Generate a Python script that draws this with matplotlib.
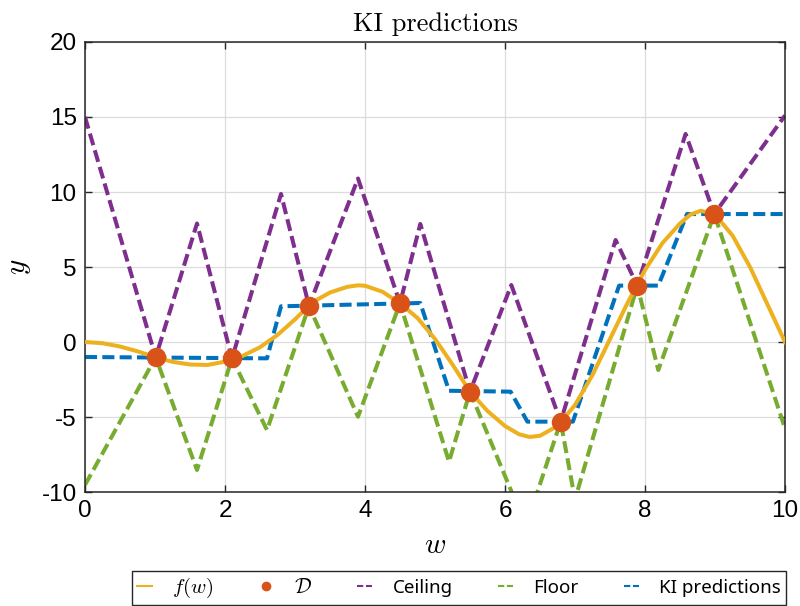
import matplotlib
matplotlib.use("Agg")
import matplotlib.pyplot as plt

plt.rcParams['mathtext.fontset'] = 'cm'
plt.rcParams['axes.unicode_minus'] = False

# sample points of f(w)
f_w = [0, 0.25, 0.5, 0.75, 1.0, 1.25, 1.5, 1.75, 2.0, 2.25, 2.5, 2.75, 3.0,
       3.25, 3.5, 3.75, 3.9, 4.0, 4.25, 4.5, 4.75, 5.0, 5.25, 5.5, 5.75, 6.0,
       6.2, 6.35, 6.5, 6.75, 7.0, 7.25, 7.5, 7.75, 8.0, 8.25, 8.5, 8.65,
       8.8, 9.0, 9.25, 9.5, 9.75, 10.0]
f_y = [0.0, -0.08, -0.3, -0.62, -1.0, -1.32, -1.5, -1.53, -1.31, -0.93, -0.35,
       0.47, 1.51, 2.65, 3.3, 3.68, 3.78, 3.75, 3.35, 2.58, 1.6, 0.2, -1.5,
       -3.31, -4.6, -5.6, -6.15, -6.33, -6.25, -5.6, -4.2, -2.2, 0.2, 2.6,
       4.8, 6.6, 7.9, 8.5, 8.75, 8.5, 7.1, 5.0, 2.5, 0.0]

# data set D
d_w = [1.01, 2.1, 3.2, 4.5, 5.5, 6.795, 7.89, 8.99]
d_y = [-1.02, -1.09, 2.4, 2.58, -3.31, -5.31, 3.76, 8.53]

# ceiling vertices
ceil_w = [0, 1.01, 1.6, 2.1, 2.8, 3.2, 3.9, 4.5, 4.79, 5.5, 6.09, 6.795,
          7.58, 7.89, 8.58, 8.99, 10.0]
ceil_y = [15.0, -1.02, 7.9, -1.09, 9.87, 2.4, 10.9, 2.58, 7.87, -3.31, 3.8,
          -5.31, 6.8, 3.76, 13.87, 8.53, 15.1]

# floor vertices
floor_w = [0, 1.01, 1.6, 2.1, 2.6, 3.2, 3.9, 4.5, 5.2, 5.5, 6.3, 6.795,
           7.0, 7.89, 8.19, 8.99, 10.0]
floor_y = [-9.53, -1.02, -8.53, -1.09, -5.87, 2.4, -4.98, 2.58, -7.98, -3.31,
           -12.3, -5.31, -10.5, 3.76, -1.87, 8.53, -5.76]

# KI prediction vertices
ki_w = [0, 2.6, 2.8, 4.79, 5.2, 6.08, 6.32, 6.97, 7.63, 8.19, 8.6, 10.0]
ki_y = [-1.0, -1.09, 2.38, 2.6, -3.25, -3.31, -5.31, -5.31, 3.76, 3.76,
        8.53, 8.53]

c_f = '#EDB120'
c_d = '#D95319'
c_ceil = '#7E2F8E'
c_floor = '#77AC30'
c_ki = '#0072BD'

fig = plt.figure(figsize=(8, 6.06), dpi=100)
ax = fig.add_axes([0.10625, 0.1881, 0.875, 0.7426])

lw = 2.9
dash = (3.0, 1.3)
ax.plot(f_w, f_y, color=c_f, lw=lw, label=r'$f(w)$', zorder=3)
ax.plot(ceil_w, ceil_y, color=c_ceil, lw=lw, ls=(0, dash), label='Ceiling', zorder=2)
ax.plot(floor_w, floor_y, color=c_floor, lw=lw, ls=(0, dash), label='Floor', zorder=2)
ax.plot(ki_w, ki_y, color=c_ki, lw=lw, ls=(0, dash), label='KI predictions', zorder=2)
ax.plot(d_w, d_y, 'o', color=c_d, ms=13, label=r'$\mathcal{D}$', zorder=4)

ax.set_xlim(0, 10)
ax.set_ylim(-10, 20)
ax.set_xticks(range(0, 11, 2))
ax.set_yticks(range(-10, 21, 5))
ax.grid(True, color='#dcdcdc', lw=0.9)
ax.set_axisbelow(True)
ax.tick_params(direction='in', length=5, labelsize=17.5, top=True, right=True,
               labeltop=False, labelright=False, width=1, color='#262626',
               pad=6)
for lab in ax.get_xticklabels() + ax.get_yticklabels():
    lab.set_fontfamily('Liberation Sans')
for s in ax.spines.values():
    s.set_color('#262626')
    s.set_linewidth(1.1)

ax.set_title('KI predictions', fontfamily='cmr10', fontsize=19, pad=8)
ax.set_xlabel(r'$w$', fontsize=21, labelpad=6)
ax.set_ylabel(r'$y$', fontsize=21, labelpad=6)

h, l = ax.get_legend_handles_labels()
order = [0, 4, 1, 2, 3]
labels = [l[i] for i in order]
leg = fig.legend([h[i] for i in order], labels, loc='center right',
                 bbox_to_anchor=(0.994, 0.0297), ncol=5,
                 handlelength=0.8, handletextpad=1.1, columnspacing=2.4,
                 borderpad=0.25, fancybox=False, framealpha=1,
                 prop={'family': 'Noto Sans', 'size': 13.5})
leg.get_frame().set_edgecolor('#262626')
leg.get_frame().set_linewidth(1.0)
for t in leg.get_texts()[:2]:
    t.set_fontsize(15)
for lh in leg.get_lines():
    lh.set_linewidth(1.5)
    lh.set_markersize(6)

fig.savefig('out.png', dpi=100)
